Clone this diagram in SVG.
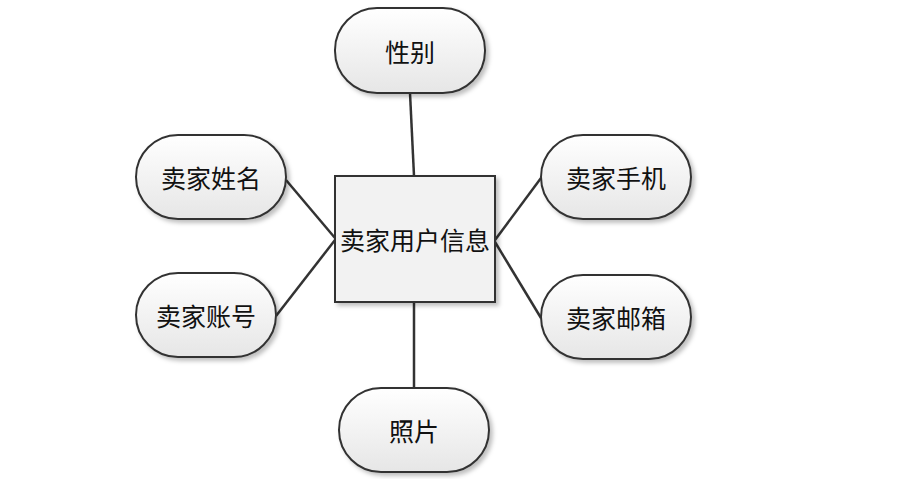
<svg xmlns="http://www.w3.org/2000/svg" width="903" height="479" viewBox="0 0 903 479">
<defs>
<linearGradient id="g" x1="0" y1="0" x2="0" y2="1"><stop offset="0" stop-color="#ffffff"/><stop offset="1" stop-color="#e6e6e6"/></linearGradient>
<filter id="sh" x="-10%" y="-10%" width="130%" height="130%"><feDropShadow dx="3" dy="3" stdDeviation="2" flood-color="#000" flood-opacity="0.25"/></filter>
</defs>
<style>
.n{fill:url(#g);stroke:#333;stroke-width:2;filter:url(#sh)}
.c{fill:#f2f2f2;stroke:#333;stroke-width:2;filter:url(#sh)}
text{font-family:"Noto Sans CJK SC","Liberation Sans",sans-serif;font-size:25px;fill:#111;text-anchor:middle;dominant-baseline:central}
.e line{stroke:#333;stroke-width:2.5}
</style>
<rect width="903" height="479" fill="#fff"/>
<g class="e">
<line x1="410" y1="93" x2="414" y2="176"/>
<line x1="286" y1="180" x2="335" y2="238"/>
<line x1="276" y1="316" x2="335" y2="240"/>
<line x1="541" y1="178" x2="495" y2="240"/>
<line x1="541" y1="318" x2="495" y2="242"/>
<line x1="414" y1="388" x2="414" y2="302"/>
</g>
<g id="center"><rect class="c" x="335" y="176" width="160" height="126"/><text x="415" y="239">卖家用户信息</text></g>
<g id="xb"><rect class="n" x="335" y="8" width="150" height="85" rx="42"/><text x="410" y="51">性别</text></g>
<g id="xm"><rect class="n" x="136" y="135" width="150" height="84" rx="42"/><text x="211" y="177">卖家姓名</text></g>
<g id="zh"><rect class="n" x="136" y="273" width="140" height="84" rx="42"/><text x="206" y="315">卖家账号</text></g>
<g id="sj"><rect class="n" x="541" y="135" width="150" height="84" rx="42"/><text x="616" y="177">卖家手机</text></g>
<g id="yx"><rect class="n" x="541" y="275" width="150" height="84" rx="42"/><text x="616" y="317">卖家邮箱</text></g>
<g id="zp"><rect class="n" x="339" y="388" width="150" height="84" rx="42"/><text x="414" y="430">照片</text></g>
</svg>
